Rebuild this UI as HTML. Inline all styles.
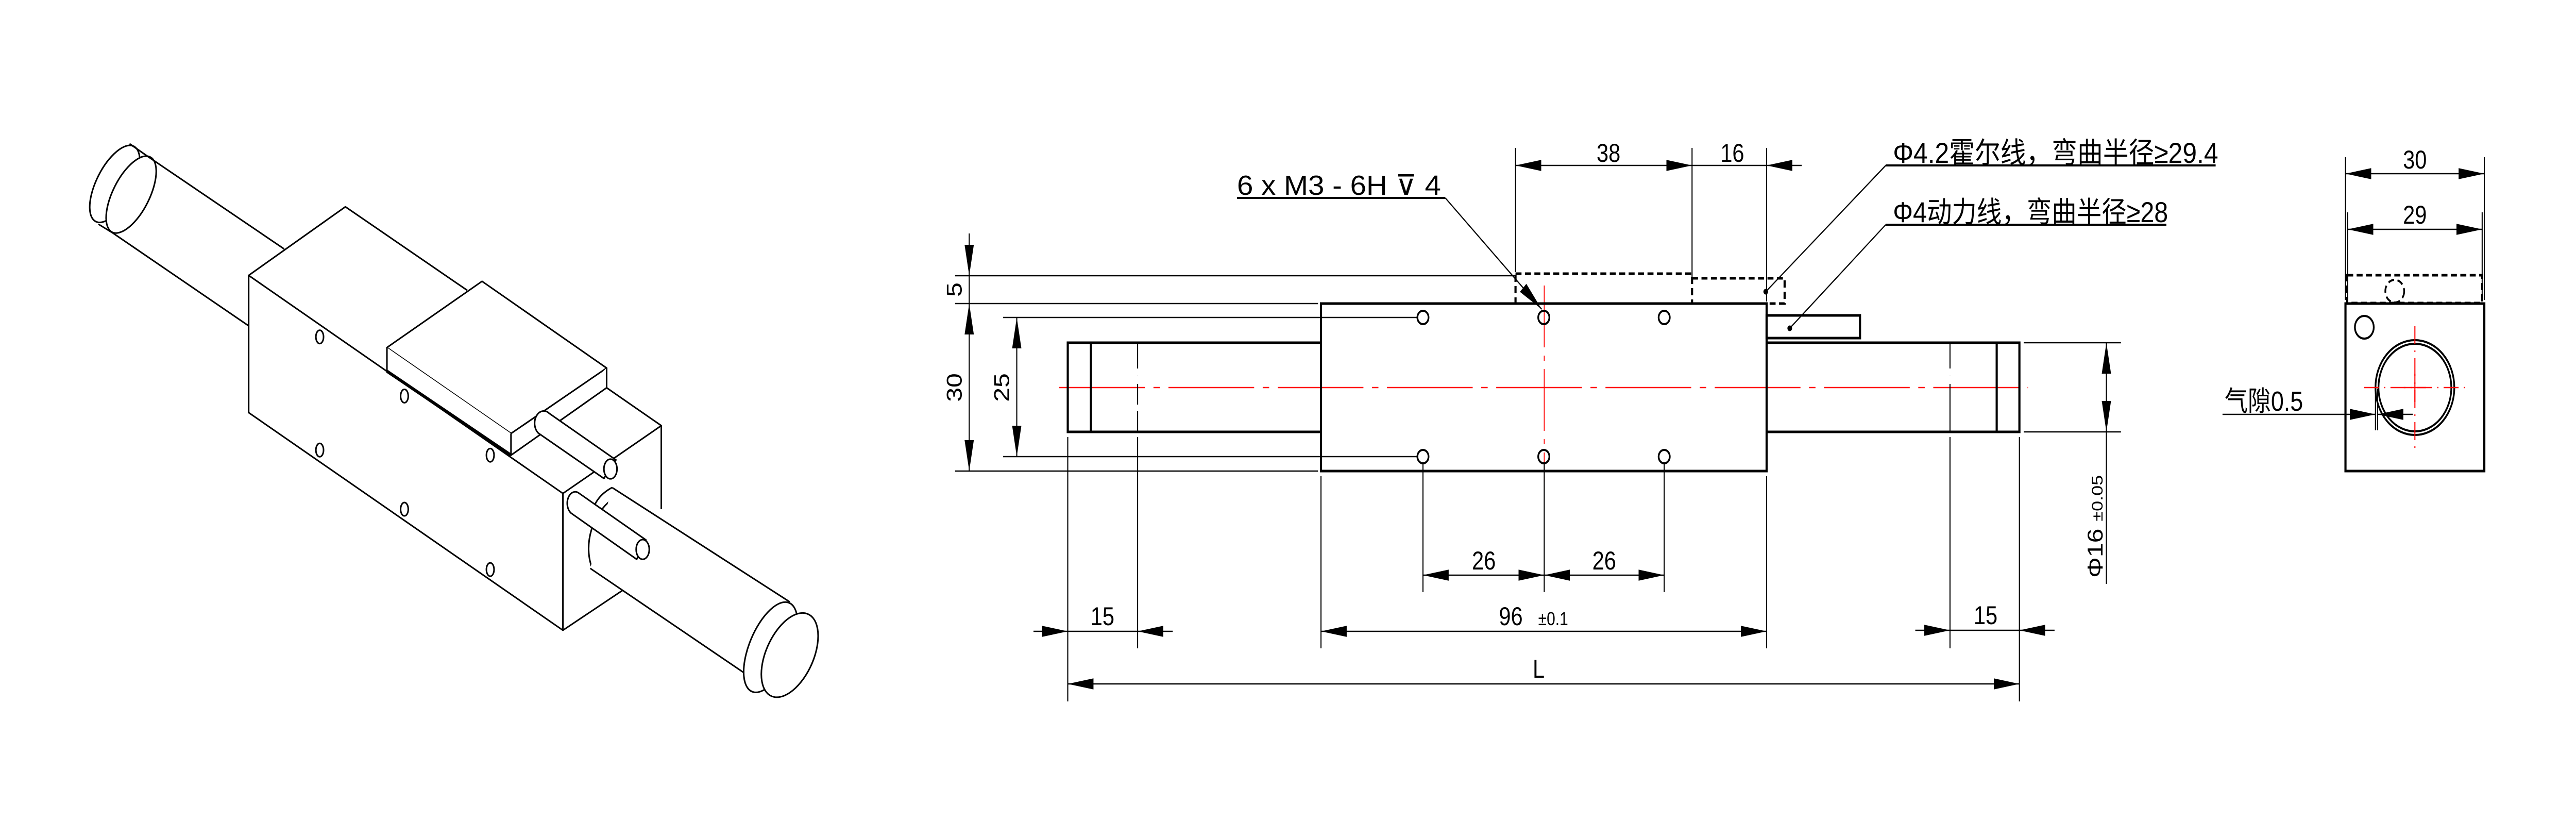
<!DOCTYPE html>
<html><head><meta charset="utf-8"><style>
html,body{margin:0;padding:0;background:#fff;width:100%;height:100%;overflow:hidden;}
svg{display:block;width:100vw;height:100vh;}
text{font-family:"Liberation Sans","Noto Sans CJK SC",sans-serif;fill:#000;}
</style></head><body>
<svg xmlns="http://www.w3.org/2000/svg" viewBox="0 0 6012 1626" preserveAspectRatio="none">
<defs>
<marker id="a" markerUnits="userSpaceOnUse" markerWidth="60" markerHeight="24" refX="50" refY="9" orient="auto-start-reverse" viewBox="0 0 50 18"><path d="M0,0 L50,9 L0,18z" fill="#000"/></marker>
</defs>
<rect width="6012" height="1626" fill="#fff"/>

<!-- ISO VIEW -->
<g transform="matrix(1.2755,0,0,0.7651,0,200)" fill="none" stroke="#000" stroke-width="3" stroke-linejoin="round">
<ellipse cx="210" cy="205" rx="35" ry="102" transform="rotate(18 210 205)" fill="#fff" vector-effect="non-scaling-stroke"/>
<ellipse cx="240" cy="232" rx="35" ry="102" transform="rotate(18 240 232)" fill="#fff" vector-effect="non-scaling-stroke"/>
<path d="M237,103 L270,135 L520,370 M180,307 L207,330 L455,565" vector-effect="non-scaling-stroke"/>
<path d="M455,437 L632,263 L855,475 M455,437 L455,785 L1030,1337 L1030,990 Z M1030,990 L1210,818 L1110,722 M1210,818 L1210,1030 M1030,1337 L1140,1235" fill="#fff" vector-effect="non-scaling-stroke"/>
<path d="M708,620 L882,452 L1110,672 L935,838 Z" fill="#fff" vector-effect="non-scaling-stroke"/>
<path d="M708,620 L708,680 L935,893 L935,838 M1110,672 L1110,722 L935,893" fill="#fff" vector-effect="non-scaling-stroke"/>
<path d="M708,680 L935,893" stroke-width="6" vector-effect="non-scaling-stroke"/>
<path d="M1005,787 L1127,905 L1105,952 L985,837 A14,26 0 0 1 1005,787 Z" fill="#fff" vector-effect="non-scaling-stroke"/>
<ellipse cx="1117" cy="928" rx="12" ry="25" fill="#fff" vector-effect="non-scaling-stroke"/>
<path d="M1120,1005 C1085,1040 1065,1120 1085,1185" vector-effect="non-scaling-stroke"/>
<path d="M1120,975 L1445,1265 L1420,1500 L1080,1180 Z" fill="#fff" stroke="none"/>
<path d="M1120,975 L1445,1265 M1080,1180 L1420,1500" vector-effect="non-scaling-stroke"/>
<path d="M1120,975 C1100,990 1088,1010 1083,1040" vector-effect="non-scaling-stroke"/>
<ellipse cx="1410" cy="1380" rx="40" ry="118" transform="rotate(15 1410 1380)" fill="#fff" vector-effect="non-scaling-stroke"/>
<ellipse cx="1445" cy="1400" rx="45" ry="110" transform="rotate(15 1445 1400)" fill="#fff" vector-effect="non-scaling-stroke"/>
<path d="M1060,990 L1182,1108 L1165,1157 L1045,1040 A13,26 0 0 1 1060,990 Z" fill="#fff" vector-effect="non-scaling-stroke"/>
<ellipse cx="1176" cy="1132" rx="12" ry="25" fill="#fff" vector-effect="non-scaling-stroke"/>
<ellipse cx="585" cy="593" rx="7" ry="17" vector-effect="non-scaling-stroke"/>
<ellipse cx="740" cy="743" rx="7" ry="17" vector-effect="non-scaling-stroke"/>
<ellipse cx="897" cy="893" rx="7" ry="17" vector-effect="non-scaling-stroke"/>
<ellipse cx="585" cy="880" rx="7" ry="17" vector-effect="non-scaling-stroke"/>
<ellipse cx="740" cy="1030" rx="7" ry="17" vector-effect="non-scaling-stroke"/>
<ellipse cx="897" cy="1183" rx="7" ry="17" vector-effect="non-scaling-stroke"/>
</g>

<!-- FRONT VIEW -->
<g fill="none" stroke="#000">
<line x1="2472" y1="752" x2="4733" y2="752" stroke="#f00" stroke-width="2.5" stroke-dasharray="200 20 15 20"/>
<line x1="3604" y1="554" x2="3604" y2="935" stroke="#f00" stroke-width="2" stroke-dasharray="120 16 10 16"/>
<g stroke-width="5">
<path d="M3083,665 L2492,665 L2492,838 L3083,838 M2546,665 L2546,838"/>
<rect x="3083" y="589" width="1040" height="325"/>
<path d="M4123,665 L4713,665 L4713,838 L4123,838 M4660,665 L4660,838"/>
<rect x="4123" y="612" width="218" height="44"/>
</g>
<g stroke-width="4">
<circle cx="3321" cy="616" r="13"/><circle cx="3603" cy="616" r="13"/><circle cx="3884" cy="616" r="13"/>
<circle cx="3321" cy="886" r="13"/><circle cx="3603" cy="886" r="13"/><circle cx="3884" cy="886" r="13"/>
</g>
<g stroke-width="5" stroke-dasharray="14 8">
<rect x="3537" y="531" width="412" height="58"/>
<path d="M3949,540 L4165,540 L4165,589 L4123,589"/>
</g>
<g stroke-width="2.5">
<line x1="2655" y1="665" x2="2655" y2="730" stroke-dasharray="50 14"/>
<line x1="2655" y1="745" x2="2655" y2="838" stroke-dasharray="40 12"/>
<line x1="4551" y1="665" x2="4551" y2="730" stroke-dasharray="50 14"/>
<line x1="4551" y1="745" x2="4551" y2="838"/>
<line x1="2229" y1="535" x2="3537" y2="535"/>
<line x1="2229" y1="589" x2="3076" y2="589"/>
<line x1="2341" y1="616" x2="3308" y2="616"/>
<line x1="2341" y1="886" x2="3308" y2="886"/>
<line x1="2229" y1="914" x2="3076" y2="914"/>
<line x1="2262" y1="453" x2="2262" y2="535" marker-end="url(#a)"/>
<line x1="2262" y1="535" x2="2262" y2="589"/>
<line x1="2262" y1="589" x2="2262" y2="914" marker-start="url(#a)" marker-end="url(#a)"/>
<line x1="2373" y1="616" x2="2373" y2="886" marker-start="url(#a)" marker-end="url(#a)"/>
<line x1="3537" y1="287" x2="3537" y2="528"/>
<line x1="3949" y1="287" x2="3949" y2="537"/>
<line x1="4123" y1="287" x2="4123" y2="585"/>
<line x1="3537" y1="321" x2="3949" y2="321" marker-start="url(#a)" marker-end="url(#a)"/>
<line x1="3949" y1="321" x2="4123" y2="321"/>
<line x1="4205" y1="321" x2="4123" y2="321" marker-end="url(#a)"/>
<line x1="2887" y1="384" x2="3373" y2="384" stroke-width="4"/>
<line x1="3373" y1="384" x2="3598" y2="600" marker-end="url(#a)"/>
<line x1="4401" y1="321" x2="5171" y2="321" stroke-width="4"/>
<line x1="4401" y1="321" x2="4121" y2="566"/>
<line x1="4401" y1="436" x2="5056" y2="436" stroke-width="4"/>
<line x1="4401" y1="436" x2="4177" y2="637"/>
<line x1="2492" y1="848" x2="2492" y2="1361"/>
<line x1="4713" y1="848" x2="4713" y2="1361"/>
<line x1="2655" y1="848" x2="2655" y2="1258"/>
<line x1="4551" y1="848" x2="4551" y2="1258"/>
<line x1="3083" y1="924" x2="3083" y2="1258"/>
<line x1="4123" y1="924" x2="4123" y2="1258"/>
<line x1="3321" y1="900" x2="3321" y2="1149"/>
<line x1="3604" y1="900" x2="3604" y2="1149"/>
<line x1="3884" y1="900" x2="3884" y2="1149"/>
<line x1="3321" y1="1116" x2="3604" y2="1116" marker-start="url(#a)" marker-end="url(#a)"/>
<line x1="3604" y1="1116" x2="3884" y2="1116" marker-start="url(#a)" marker-end="url(#a)"/>
<line x1="3083" y1="1225" x2="4123" y2="1225" marker-start="url(#a)" marker-end="url(#a)"/>
<line x1="2412" y1="1225" x2="2492" y2="1225" marker-end="url(#a)"/>
<line x1="2737" y1="1225" x2="2655" y2="1225" marker-end="url(#a)"/>
<line x1="2492" y1="1225" x2="2655" y2="1225"/>
<line x1="4470" y1="1223" x2="4551" y2="1223" marker-end="url(#a)"/>
<line x1="4795" y1="1223" x2="4713" y2="1223" marker-end="url(#a)"/>
<line x1="4551" y1="1223" x2="4713" y2="1223"/>
<line x1="2492" y1="1327" x2="4713" y2="1327" marker-start="url(#a)" marker-end="url(#a)"/>
<line x1="4723" y1="665" x2="4950" y2="665"/>
<line x1="4723" y1="838" x2="4950" y2="838"/>
<line x1="4916" y1="665" x2="4916" y2="838" marker-start="url(#a)" marker-end="url(#a)"/>
<line x1="4916" y1="838" x2="4916" y2="1133"/>
</g>
<circle cx="4121" cy="566" r="5" fill="#000"/>
<circle cx="4177" cy="637" r="5" fill="#000"/>
</g>

<g font-size="50">
<text x="2887" y="378" font-size="54" textLength="476" lengthAdjust="spacingAndGlyphs">6 x  M3 - 6H ⊽ 4</text>
<text x="3754" y="314" text-anchor="middle">38</text>
<text x="4043" y="314" text-anchor="middle">16</text>
<text x="4418" y="316" font-size="56" textLength="759" lengthAdjust="spacingAndGlyphs">Φ4.2霍尔线，弯曲半径≥29.4</text>
<text x="4418" y="431" font-size="56" textLength="642" lengthAdjust="spacingAndGlyphs">Φ4动力线，弯曲半径≥28</text>
<text transform="translate(2244,562) rotate(-90)" text-anchor="middle">5</text>
<text transform="translate(2244,752) rotate(-90)" text-anchor="middle">30</text>
<text transform="translate(2355,752) rotate(-90)" text-anchor="middle">25</text>
<text x="3463" y="1105" text-anchor="middle">26</text>
<text x="3744" y="1105" text-anchor="middle">26</text>
<text x="3526" y="1213" text-anchor="middle">96</text>
<text x="3590" y="1213" font-size="36">±0.1</text>
<text x="2573" y="1213" text-anchor="middle">15</text>
<text x="4634" y="1211" text-anchor="middle">15</text>
<text x="3591" y="1315" text-anchor="middle">L</text>
<text transform="translate(4907,1121) rotate(-90)">Φ16 <tspan font-size="36">±0.05</tspan></text>
</g>

<!-- SIDE VIEW -->
<g fill="none" stroke="#000">
<rect x="5474" y="589" width="324" height="325" stroke-width="5"/>
<rect x="5478" y="534" width="315" height="54" stroke-width="5" stroke-dasharray="14 8"/>
<circle cx="5589" cy="565" r="22" stroke-width="4" stroke-dasharray="14 8"/>
<circle cx="5518" cy="635" r="22" stroke-width="4"/>
<circle cx="5636" cy="752" r="92" stroke-width="4"/>
<circle cx="5636" cy="752" r="85" stroke-width="4"/>
<g stroke="#f00" stroke-width="2.5">
<line x1="5517" y1="752" x2="5755" y2="752" stroke-dasharray="35 12 3 12"/>
<line x1="5636" y1="633" x2="5636" y2="870" stroke-dasharray="35 12 3 12"/>
<line x1="5610" y1="752" x2="5662" y2="752"/>
<line x1="5636" y1="725" x2="5636" y2="780"/>
</g>
<g stroke-width="2.5">
<line x1="5474" y1="305" x2="5474" y2="582"/>
<line x1="5798" y1="305" x2="5798" y2="582"/>
<line x1="5479" y1="412" x2="5479" y2="585"/>
<line x1="5793" y1="412" x2="5793" y2="585"/>
<line x1="5474" y1="337" x2="5798" y2="337" marker-start="url(#a)" marker-end="url(#a)"/>
<line x1="5479" y1="445" x2="5793" y2="445" marker-start="url(#a)" marker-end="url(#a)"/>
<line x1="5187" y1="804" x2="5544" y2="804" marker-end="url(#a)"/>
<line x1="5631" y1="804" x2="5549" y2="804" marker-end="url(#a)"/>
<line x1="5544" y1="754" x2="5544" y2="835"/>
<line x1="5549" y1="754" x2="5549" y2="835"/>
</g>
</g>
<g font-size="50">
<text x="5636" y="327" text-anchor="middle">30</text>
<text x="5636" y="434" text-anchor="middle">29</text>
<text x="5192" y="797" font-size="54">气隙0.5</text>
</g>
</svg>
</body></html>
